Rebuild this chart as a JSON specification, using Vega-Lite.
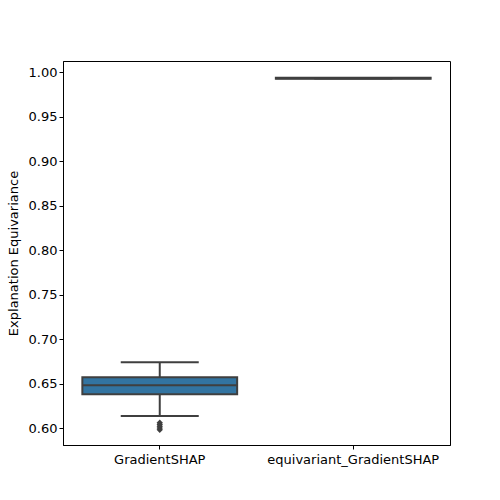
{
  "$schema": "https://vega.github.io/schema/vega-lite/v6.json",
  "width": 387,
  "height": 384,
  "autosize": {"type": "none"},
  "padding": {"left": 63, "top": 61, "right": 50, "bottom": 55},
  "background": "white",
  "config": {
    "font": "DejaVu Sans",
    "view": {"stroke": "black", "strokeWidth": 1},
    "axis": {"labelFont": "DejaVu Sans", "titleFont": "DejaVu Sans", "labelFontSize": 13, "titleFontSize": 13, "titleFontWeight": "normal", "labelColor": "black", "titleColor": "black", "tickColor": "black", "domainColor": "black", "grid": false, "tickSize": 4}
  },
  "datasets": {
    "stats": [
      {"method": "GradientSHAP", "min": 0.6135, "q1": 0.638, "median": 0.648, "q3": 0.657, "max": 0.674},
      {"method": "equivariant_GradientSHAP", "min": 0.993, "q1": 0.9925, "median": 0.993, "q3": 0.9935, "max": 0.993}
    ],
    "outliers": [
      {"method": "GradientSHAP", "value": 0.606},
      {"method": "GradientSHAP", "value": 0.604},
      {"method": "GradientSHAP", "value": 0.602},
      {"method": "GradientSHAP", "value": 0.6},
      {"method": "GradientSHAP", "value": 0.598}
    ]
  },
  "encoding": {
    "x": {"field": "method", "type": "nominal", "sort": ["GradientSHAP", "equivariant_GradientSHAP"], "title": null, "scale": {"paddingInner": 0.2, "paddingOuter": 0.1}, "axis": {"labelAngle": 0, "labelPadding": 4}}
  },
  "layer": [
    {
      "data": {"name": "stats"},
      "mark": {"type": "rule", "color": "#3f3f3f", "strokeWidth": 2},
      "encoding": {
        "y": {"field": "min", "type": "quantitative", "title": "Explanation Equivariance", "scale": {"domain": [0.581, 1.0124], "nice": false, "zero": false}, "axis": {"values": [0.6, 0.65, 0.7, 0.75, 0.8, 0.85, 0.9, 0.95, 1.0], "format": ".2f", "titlePadding": 8}},
        "y2": {"field": "max"}
      }
    },
    {
      "data": {"name": "stats"},
      "mark": {"type": "bar", "fill": "#3274a1", "stroke": "#3f3f3f", "strokeWidth": 2, "width": {"band": 1}},
      "encoding": {"y": {"field": "q1", "type": "quantitative"}, "y2": {"field": "q3"}}
    },
    {
      "data": {"name": "stats"},
      "mark": {"type": "tick", "color": "#3f3f3f", "thickness": 2, "size": 155, "opacity": 1},
      "encoding": {"y": {"field": "median", "type": "quantitative"}}
    },
    {
      "data": {"name": "stats"},
      "mark": {"type": "tick", "color": "#3f3f3f", "thickness": 2, "size": 78, "opacity": 1},
      "encoding": {"y": {"field": "min", "type": "quantitative"}}
    },
    {
      "data": {"name": "stats"},
      "mark": {"type": "tick", "color": "#3f3f3f", "thickness": 2, "size": 78, "opacity": 1},
      "encoding": {"y": {"field": "max", "type": "quantitative"}}
    },
    {
      "data": {"name": "outliers"},
      "mark": {"type": "point", "shape": "diamond", "filled": true, "color": "#3f3f3f", "size": 40, "opacity": 1},
      "encoding": {"y": {"field": "value", "type": "quantitative"}}
    }
  ]
}
